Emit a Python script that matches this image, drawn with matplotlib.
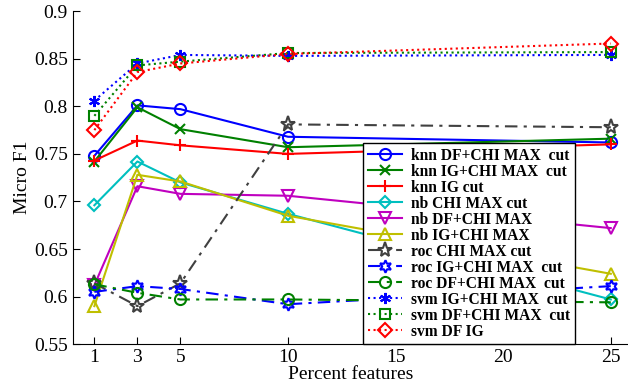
import matplotlib
matplotlib.use("Agg")
import matplotlib.pyplot as plt

plt.rcParams['font.family'] = ['Liberation Serif', 'DejaVu Serif']

# Data
x = [1, 3, 5, 10, 25]

knn_df_chi = [0.748, 0.801, 0.797, 0.768, 0.762]
knn_ig_chi = [0.742, 0.799, 0.776, 0.757, 0.766]
knn_ig = [0.743, 0.764, 0.759, 0.750, 0.760]
nb_chi = [0.696, 0.742, 0.720, 0.687, 0.597]
nb_df_chi = [0.612, 0.716, 0.708, 0.706, 0.672]
nb_ig_chi = [0.590, 0.728, 0.721, 0.685, 0.624]
roc_chi = [0.614, 0.590, 0.614, 0.781, 0.778]
roc_ig_chi = [0.605, 0.611, 0.608, 0.592, 0.611]
roc_df_chi = [0.613, 0.604, 0.597, 0.597, 0.594]
svm_ig_chi = [0.806, 0.845, 0.854, 0.853, 0.854]
svm_df_chi = [0.790, 0.843, 0.847, 0.856, 0.857]
svm_df_ig = [0.775, 0.836, 0.845, 0.855, 0.866]

labels = ["knn DF+CHI MAX  cut", "knn IG+CHI MAX  cut", "knn IG cut",
          "nb CHI MAX cut", "nb DF+CHI MAX", "nb IG+CHI MAX",
          "roc CHI MAX cut", "roc IG+CHI MAX  cut", "roc DF+CHI MAX  cut",
          "svm IG+CHI MAX  cut", "svm DF+CHI MAX  cut", "svm DF IG"]

fig = plt.figure(figsize=(6.28, 3.85), dpi=100)
ax = fig.add_axes([0.116, 0.106, 0.884, 0.865])

ms = 8
dashdot = (0, (6, 3, 1.5, 3))
ax.plot(x, knn_df_chi, color='b', marker='o', mfc='none', mew=1.5, ms=ms, lw=1.5, label=labels[0])
ax.plot(x, knn_ig_chi, color='g', marker='x', mfc='none', mew=1.5, ms=ms - 1, lw=1.5, label=labels[1])
ax.plot(x, knn_ig, color='r', marker='+', mfc='none', mew=1.5, ms=ms + 1, lw=1.5, label=labels[2])
ax.plot(x, nb_chi, color='c', marker='D', mfc='none', mew=1.5, ms=ms - 2, lw=1.5, label=labels[3])
ax.plot(x, nb_df_chi, color='m', marker='v', mfc='none', mew=1.5, ms=ms, lw=1.5, label=labels[4])
ax.plot(x, nb_ig_chi, color='y', marker='^', mfc='none', mew=1.5, ms=ms, lw=1.5, label=labels[5])
ax.plot(x, roc_chi, color='#404040', marker='*', mfc='none', mew=1.5, ms=ms + 3, lw=1.5, ls=dashdot, label=labels[6])
ax.plot(x, roc_ig_chi, color='b', marker=(6, 1, 0), mfc='none', mew=1.5, ms=ms + 1, lw=1.5, ls=dashdot, label=labels[7])
ax.plot(x, roc_df_chi, color='g', marker='o', mfc='none', mew=1.5, ms=ms, lw=1.5, ls=dashdot, label=labels[8])
ax.plot(x, svm_ig_chi, color='b', marker=(6, 2, 0), mfc='none', mew=1.5, ms=ms, lw=1.5, ls=':', label=labels[9])
ax.plot(x, svm_df_chi, color='g', marker='s', mfc='none', mew=1.5, ms=ms - 1, lw=1.5, ls=':', label=labels[10])
ax.plot(x, svm_df_ig, color='r', marker='D', mfc='none', mew=1.5, ms=ms - 1, lw=1.5, ls=':', label=labels[11])

ax.set_xlim(0, 25.8)
ax.set_ylim(0.55, 0.9)
ax.set_xticks([1, 3, 5, 10, 15, 20, 25])
ax.set_yticks([0.55, 0.6, 0.65, 0.7, 0.75, 0.8, 0.85, 0.9])
ax.set_yticklabels(["0.55", "0.6", "0.65", "0.7", "0.75", "0.8", "0.85", "0.9"])
ax.tick_params(direction='in', labelsize=14, length=5)
ax.spines['top'].set_visible(False)
ax.spines['right'].set_visible(False)
ax.set_xlabel("Percent features", fontsize=14, labelpad=0)
ax.set_ylabel("Micro F1", fontsize=14, labelpad=2)

leg = ax.legend(loc='lower right', bbox_to_anchor=(0.905, 0.0),
                prop={'weight': 'bold', 'size': 11.2}, fancybox=False,
                framealpha=1, edgecolor='k', handlelength=2.2, labelspacing=0.0,
                borderpad=0.3, handletextpad=0.6, borderaxespad=0)
leg.get_frame().set_linewidth(1.0)

fig.savefig("out.png", dpi=100)
